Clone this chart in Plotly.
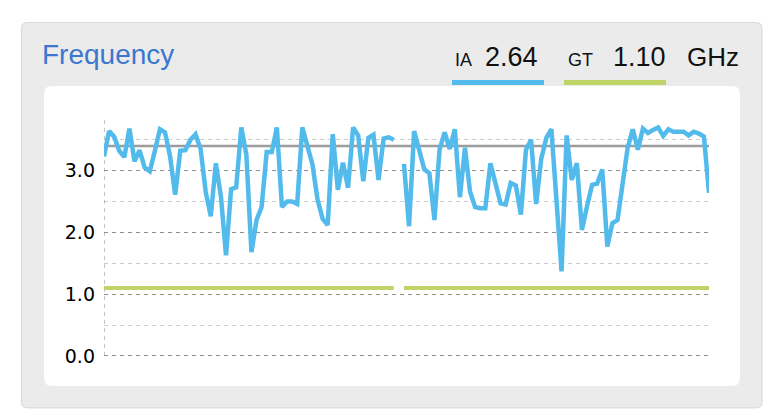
import plotly.graph_objects as go

# ---------------- data ----------------
samples = list(range(120))

ia_values = [
    3.23, 3.64, 3.55, 3.32, 3.22, 3.68, 3.15, 3.33, 3.05, 2.99,
    3.32, 3.67, 3.62, 3.23, 2.61, 3.32, 3.33, 3.50, 3.59, 3.35,
    2.66, 2.26, 3.12, 2.58, 1.63, 2.70, 2.73, 3.70, 3.26, 1.68,
    2.20, 2.41, 3.30, 3.30, 3.70, 2.41, 2.50, 2.50, 2.46, 3.70,
    3.40, 3.10, 2.53, 2.22, 2.12, 3.59, 2.69, 3.13, 2.72, 3.70,
    3.57, 2.83, 3.53, 3.58, 2.85, 3.52, 3.54, 3.50, None, 3.11,
    2.10, 3.64, 3.34, 3.02, 2.96, 2.20, 3.34, 3.62, 3.35, 3.67,
    2.57, 3.37, 2.66, 2.41, 2.39, 2.39, 3.12, 2.80, 2.47, 2.45,
    2.80, 2.76, 2.29, 3.34, 3.50, 2.46, 3.19, 3.53, 3.67, 2.52,
    1.37, 3.57, 2.85, 3.12, 2.04, 2.42, 2.77, 2.79, 3.02, 1.77,
    2.15, 2.20, 2.74, 3.37, 3.67, 3.34, 3.68, 3.61, 3.66, 3.70,
    3.56, 3.67, 3.63, 3.63, 3.63, 3.57, 3.63, 3.60, 3.55, 2.64,
]

gt_values = [
    1.10, 1.10, 1.10, 1.10, 1.10, 1.10, 1.10, 1.10, 1.10, 1.10,
    1.10, 1.10, 1.10, 1.10, 1.10, 1.10, 1.10, 1.10, 1.10, 1.10,
    1.10, 1.10, 1.10, 1.10, 1.10, 1.10, 1.10, 1.10, 1.10, 1.10,
    1.10, 1.10, 1.10, 1.10, 1.10, 1.10, 1.10, 1.10, 1.10, 1.10,
    1.10, 1.10, 1.10, 1.10, 1.10, 1.10, 1.10, 1.10, 1.10, 1.10,
    1.10, 1.10, 1.10, 1.10, 1.10, 1.10, 1.10, 1.10, None, 1.10,
    1.10, 1.10, 1.10, 1.10, 1.10, 1.10, 1.10, 1.10, 1.10, 1.10,
    1.10, 1.10, 1.10, 1.10, 1.10, 1.10, 1.10, 1.10, 1.10, 1.10,
    1.10, 1.10, 1.10, 1.10, 1.10, 1.10, 1.10, 1.10, 1.10, 1.10,
    1.10, 1.10, 1.10, 1.10, 1.10, 1.10, 1.10, 1.10, 1.10, 1.10,
    1.10, 1.10, 1.10, 1.10, 1.10, 1.10, 1.10, 1.10, 1.10, 1.10,
    1.10, 1.10, 1.10, 1.10, 1.10, 1.10, 1.10, 1.10, 1.10, 1.10,
]

ia_max_line = 3.40
y_ticks = [0, 1, 2, 3]
y_min = -0.05
y_max = 3.82

# ---------------- layout helpers (window pixel coordinates) ----------------
OFF = 8            # the page body margin offsets the figure by 8px
W, H = 780 - OFF, 420 - OFF
L, T, PW = 104, 120, 605            # plot area left/top in window pixels
UNIT = 236 / y_max                  # pixels per GHz (0.0 at y=356)
PH = UNIT * (y_max - y_min)         # plot height in pixels

BLUE = "#52bbec"
GREEN = "#bed466"
TITLE_BLUE = "#3b77cf"
SANS = "Liberation Sans, Arial, sans-serif"


def px(x):
    return (x - L) / PW


def py(y):
    return (T + PH - y) / PH


def rrect(x0, y0, x1, y1, r):
    return (
        f"M {px(x0 + r)},{py(y0)} L {px(x1 - r)},{py(y0)} "
        f"Q {px(x1)},{py(y0)} {px(x1)},{py(y0 + r)} "
        f"L {px(x1)},{py(y1 - r)} Q {px(x1)},{py(y1)} {px(x1 - r)},{py(y1)} "
        f"L {px(x0 + r)},{py(y1)} Q {px(x0)},{py(y1)} {px(x0)},{py(y1 - r)} "
        f"L {px(x0)},{py(y0 + r)} Q {px(x0)},{py(y0)} {px(x0 + r)},{py(y0)} Z"
    )


fig = go.Figure()

fig.add_trace(go.Scatter(
    x=[samples[0], samples[-1]], y=[ia_max_line, ia_max_line],
    mode="lines", line=dict(color="#9d9d9d", width=2.5),
    hoverinfo="skip", showlegend=False,
))
fig.add_trace(go.Scatter(
    x=samples, y=gt_values, mode="lines",
    line=dict(color=GREEN, width=4), connectgaps=False,
    showlegend=False, name="GT",
))
fig.add_trace(go.Scatter(
    x=samples, y=ia_values, mode="lines",
    line=dict(color=BLUE, width=4.5), connectgaps=False,
    showlegend=False, name="IA",
))

shapes = [
    dict(type="path", xref="paper", yref="paper", layer="below",
         path=rrect(21.5, 22.5, 762, 408, 6),
         fillcolor="#ebebeb", line=dict(color="#d8d8d8", width=1)),
    dict(type="path", xref="paper", yref="paper", layer="below",
         path=rrect(44, 86, 740, 386, 8),
         fillcolor="#ffffff", line=dict(width=0)),
    dict(type="rect", xref="paper", yref="paper",
         x0=px(452), x1=px(544), y0=py(85), y1=py(80),
         fillcolor=BLUE, line=dict(width=0)),
    dict(type="rect", xref="paper", yref="paper",
         x0=px(564), x1=px(666), y0=py(85), y1=py(80),
         fillcolor=GREEN, line=dict(width=0)),
    dict(type="line", xref="x", yref="y", layer="between",
         x0=samples[0], x1=samples[0], y0=0, y1=y_max,
         line=dict(color="#8c8c8c", width=1, dash="4px,4px")),
]

annotations = [
    dict(text="Frequency", x=px(40), y=py(54), xref="paper", yref="paper",
         xanchor="left", yanchor="middle", showarrow=False,
         font=dict(family=SANS, size=28, color=TITLE_BLUE)),
    dict(text="IA", x=px(453), y=py(59.5), xref="paper", yref="paper",
         xanchor="left", yanchor="middle", showarrow=False,
         font=dict(family=SANS, size=18, color="#111111")),
    dict(text=f"{ia_values[-1]:.2f}", x=px(483), y=py(57), xref="paper", yref="paper",
         xanchor="left", yanchor="middle", showarrow=False,
         font=dict(family=SANS, size=27, color="#111111")),
    dict(text="GT", x=px(566), y=py(59.5), xref="paper", yref="paper",
         xanchor="left", yanchor="middle", showarrow=False,
         font=dict(family=SANS, size=18, color="#111111")),
    dict(text=f"{gt_values[-1]:.2f}", x=px(611), y=py(57), xref="paper", yref="paper",
         xanchor="left", yanchor="middle", showarrow=False,
         font=dict(family=SANS, size=27, color="#111111")),
    dict(text="GHz", x=px(685), y=py(57), xref="paper", yref="paper",
         xanchor="left", yanchor="middle", showarrow=False,
         font=dict(family=SANS, size=26, color="#111111")),
]

fig.update_layout(
    width=W, height=H,
    margin=dict(l=L - OFF, r=W - (L - OFF) - PW, t=T - OFF,
                b=H - (T - OFF) - PH, pad=0),
    paper_bgcolor="#ffffff",
    plot_bgcolor="rgba(0,0,0,0)",
    shapes=shapes,
    annotations=annotations,
    showlegend=False,
    xaxis=dict(range=[samples[0], samples[-1]], visible=False, fixedrange=True),
    yaxis=dict(
        range=[y_min, y_max], tickvals=y_ticks, tickformat=".1f",
        showgrid=True, gridcolor="#8f8f8f", griddash="4px,4px", gridwidth=1,
        zeroline=False, showline=False, ticks="",
        ticklabelstandoff=8,
        tickfont=dict(family="DejaVu Sans", size=19, color="#000000"),
        minor=dict(dtick=0.5, tick0=0, showgrid=True, gridcolor="#cccccc",
                   griddash="4px,4px", gridwidth=1),
        fixedrange=True,
    ),
)

fig.write_html("out.html")
